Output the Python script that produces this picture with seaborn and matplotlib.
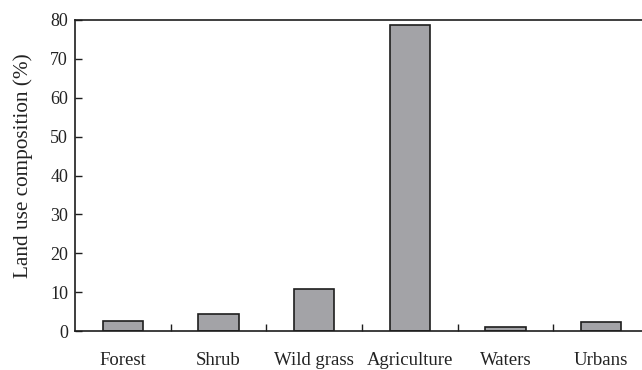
import matplotlib
matplotlib.use("Agg")
import matplotlib.pyplot as plt
import seaborn as sns
import numpy as np
import pandas as pd

# ── Data ───────────────────────────────────────────────────────────────────────
categories = ["Forest", "Shrub", "Wild grass", "Agriculture", "Waters", "Urbans"]
composition = [2.7, 4.3, 10.9, 78.7, 1.0, 2.4]
y_ticks = [0, 10, 20, 30, 40, 50, 60, 70, 80]

BAR = "#a3a3a7"
EDGE = "#1e1e1e"

sns.set_theme(style="white")
plt.rcParams["font.family"] = ["Liberation Serif", "DejaVu Serif"]

df = pd.DataFrame({"category": categories, "value": composition})

fig = plt.figure(figsize=(6.42, 3.70), dpi=100)
ax = fig.add_axes([75 / 642, 39 / 370, 574 / 642, 311 / 370])

sns.barplot(data=df, x="category", y="value", color=BAR, width=0.42,
            edgecolor=EDGE, linewidth=1.2, saturation=1, ax=ax)

ax.set_xlim(-0.5, len(categories) - 0.5)
ax.set_ylim(0, 80)
ax.set_yticks(y_ticks)

# spines: left, bottom, top only (right edge is cropped in the original)
for side in ["left", "bottom", "top"]:
    ax.spines[side].set_visible(True)
    ax.spines[side].set_color(EDGE)
    ax.spines[side].set_linewidth(1.2)
ax.spines["right"].set_visible(False)

# category boundary ticks (inward), labels centred without ticks
ax.set_xticks(np.arange(0.5, len(categories) - 0.5, 1.0), minor=True)
ax.tick_params(axis="x", which="minor", direction="in", length=5,
               width=1, color=EDGE, bottom=True)
ax.tick_params(axis="x", which="major", length=0, pad=15,
               labelsize=13.5, labelcolor="#222222")
ax.tick_params(axis="y", which="major", direction="in", length=5, width=1,
               color=EDGE, left=True, labelsize=13, labelcolor="#222222", pad=5)

ax.set_xlabel("")
ax.set_ylabel("Land use composition (%)", fontsize=15.3, color="#222222")
ax.yaxis.set_label_coords(-0.074, 0.53)

fig.savefig("out.png", dpi=100)
